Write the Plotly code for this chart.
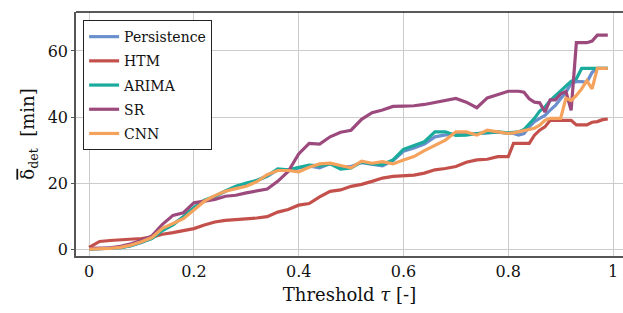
import plotly.graph_objects as go

tau = [0.00, 0.02, 0.04, 0.06, 0.08, 0.10, 0.12, 0.14, 0.16, 0.18,
       0.20, 0.22, 0.24, 0.26, 0.28, 0.30, 0.32, 0.34, 0.36, 0.38,
       0.40, 0.42, 0.44, 0.46, 0.48, 0.50, 0.52, 0.54, 0.56, 0.58,
       0.60, 0.62, 0.64, 0.66, 0.68, 0.70, 0.72, 0.74, 0.76, 0.78,
       0.80, 0.81, 0.82, 0.83, 0.84, 0.85, 0.86, 0.87, 0.88, 0.89,
       0.90, 0.91, 0.92, 0.93, 0.94, 0.95, 0.96, 0.97, 0.98, 0.99]

persistence = [0.0, 0.1, 0.2, 0.4, 1.0, 2.0, 3.3, 5.8, 7.5, 9.8,
               12.4, 14.6, 15.8, 17.5, 18.8, 19.8, 20.7, 22.0, 24.0, 24.0,
               24.6, 25.2, 24.6, 25.9, 25.0, 25.0, 26.2, 25.6, 25.2, 26.8,
               29.6, 30.6, 31.8, 34.0, 34.6, 34.8, 34.8, 35.0, 35.2, 35.4,
               35.0, 35.0, 34.5, 35.0, 37.0, 38.6, 39.6, 40.5, 42.1, 43.5,
               45.5, 47.5, 50.2, 50.7, 50.7, 50.5, 53.5, 54.7, 54.7, 54.7]

htm = [0.5, 2.3, 2.6, 2.8, 2.9, 3.2, 3.6, 4.5, 5.0, 5.5,
       6.2, 7.3, 8.2, 8.7, 8.9, 9.1, 9.4, 9.8, 11.2, 12.0,
       13.3, 13.8, 15.8, 17.5, 17.9, 19.0, 19.6, 20.5, 21.5, 22.0,
       22.1, 22.4, 23.0, 24.0, 24.4, 25.0, 26.3, 27.0, 27.2, 28.0,
       28.0, 32.0, 32.0, 32.0, 32.0, 34.5, 36.0, 37.0, 39.0, 39.0,
       39.0, 39.0, 39.0, 37.6, 37.6, 37.6, 38.4, 38.6, 39.2, 39.4]

arima = [0.0, 0.1, 0.2, 0.4, 1.0, 2.0, 3.2, 5.6, 7.3, 9.8,
         12.6, 14.8, 16.0, 17.6, 19.0, 20.0, 20.8, 22.2, 24.3, 24.0,
         24.7, 25.4, 25.2, 25.8, 24.2, 24.6, 26.4, 25.8, 25.6, 27.0,
         30.2, 31.3, 32.5, 35.5, 35.5, 34.4, 34.5, 35.0, 35.3, 35.5,
         35.2, 35.3, 35.5, 36.2, 38.0, 39.6, 41.8, 43.0, 45.0, 46.5,
         47.8, 49.5, 50.8, 51.6, 54.7, 54.7, 54.7, 54.7, 54.7, 54.7]

sr = [0.2, 0.3, 0.4, 0.8, 1.6, 2.7, 4.0, 7.5, 10.2, 11.0,
      14.0, 14.5, 15.0, 16.0, 16.3, 17.0, 17.6, 18.2, 20.5, 23.5,
      28.8, 32.0, 31.8, 34.0, 35.4, 36.0, 39.3, 41.3, 42.1, 43.2,
      43.3, 43.4, 43.8, 44.4, 44.8, 45.6, 44.5, 42.8, 45.8, 46.8,
      47.8, 47.8, 47.8, 47.5, 45.5, 44.5, 44.3, 41.5, 45.2, 45.2,
      47.0, 47.7, 42.0, 62.5, 62.5, 62.5, 63.0, 64.8, 64.8, 64.8]

cnn = [0.0, 0.0, 0.2, 0.5, 1.2, 2.2, 3.5, 6.3, 7.8, 9.2,
       11.8, 14.5, 16.2, 17.5, 18.3, 19.0, 20.4, 22.5, 23.8, 23.8,
       23.4, 24.8, 25.8, 26.0, 25.3, 24.6, 26.6, 26.0, 26.5, 25.8,
       27.0, 28.0, 29.8, 31.5, 33.0, 35.5, 35.5, 34.5, 36.0, 35.5,
       35.0, 35.2, 35.6, 36.0, 36.2, 36.6, 37.5, 39.0, 39.6, 39.6,
       39.6, 45.7, 45.0, 46.5, 48.5, 51.0, 48.5, 54.7, 54.7, 54.7]

series_names = ["Persistence", "HTM", "ARIMA", "SR", "CNN"]
series_values = [persistence, htm, arima, sr, cnn]
colors = ["#6b8fcc", "#c4504c", "#1aab9c", "#9c4a7d", "#f5a25c"]

x_ticks = [0, 0.2, 0.4, 0.6, 0.8, 1]
x_tick_labels = ["0", "0.2", "0.4", "0.6", "0.8", "1"]
y_ticks = [0, 20, 40, 60]

font_family = "DejaVu Serif, serif"

fig = go.Figure()
for i, (name, vals, col) in enumerate(zip(series_names, series_values, colors)):
    fig.add_trace(go.Scatter(
        x=tau, y=vals, mode="lines", name=name,
        line=dict(color=col, width=3.2),
        legendgroup=f"g{i}",
    ))

fig.update_layout(
    width=623, height=313,
    margin=dict(l=76, r=0, t=12, b=57, autoexpand=False),
    paper_bgcolor="white", plot_bgcolor="white",
    font=dict(family=font_family, size=15, color="#111"),
    showlegend=True,
    legend=dict(
        x=0.013, y=0.967, xanchor="left", yanchor="top",
        bgcolor="white", bordercolor="#222", borderwidth=1,
        font=dict(family=font_family, size=14, color="#111"),
        tracegroupgap=3,
    ),
    xaxis=dict(
        range=[-0.025, 1.019], automargin=False,
        tickvals=x_ticks, ticktext=x_tick_labels,
        showgrid=True, gridcolor="#cccccc", gridwidth=1,
        showline=True, linecolor="#555", linewidth=1.5,
        ticks="", zeroline=False,
        tickfont=dict(size=16),
        title=dict(text="Threshold <i>τ</i> [-]", font=dict(size=18), standoff=8),
    ),
    yaxis=dict(
        range=[-2.1, 71.8], automargin=False,
        tickvals=y_ticks,
        showgrid=True, gridcolor="#cccccc", gridwidth=1,
        showline=True, linecolor="#555", linewidth=1.5,
        ticks="outside", ticklen=3, tickcolor="#555",
        zeroline=False,
        tickfont=dict(size=16),
        title=dict(text='<span style="text-decoration:overline">δ</span><sub>det</sub>  [min]',
                   font=dict(size=18), standoff=8),
    ),
)

fig.add_shape(type="line", xref="paper", yref="paper", x0=0, x1=1, y0=1, y1=1,
              line=dict(color="#222", width=1.5))

fig.write_html(
    "out.html",
    config={"displayModeBar": False},
    post_script="document.body.style.margin='0';document.body.style.padding='0';",
)
